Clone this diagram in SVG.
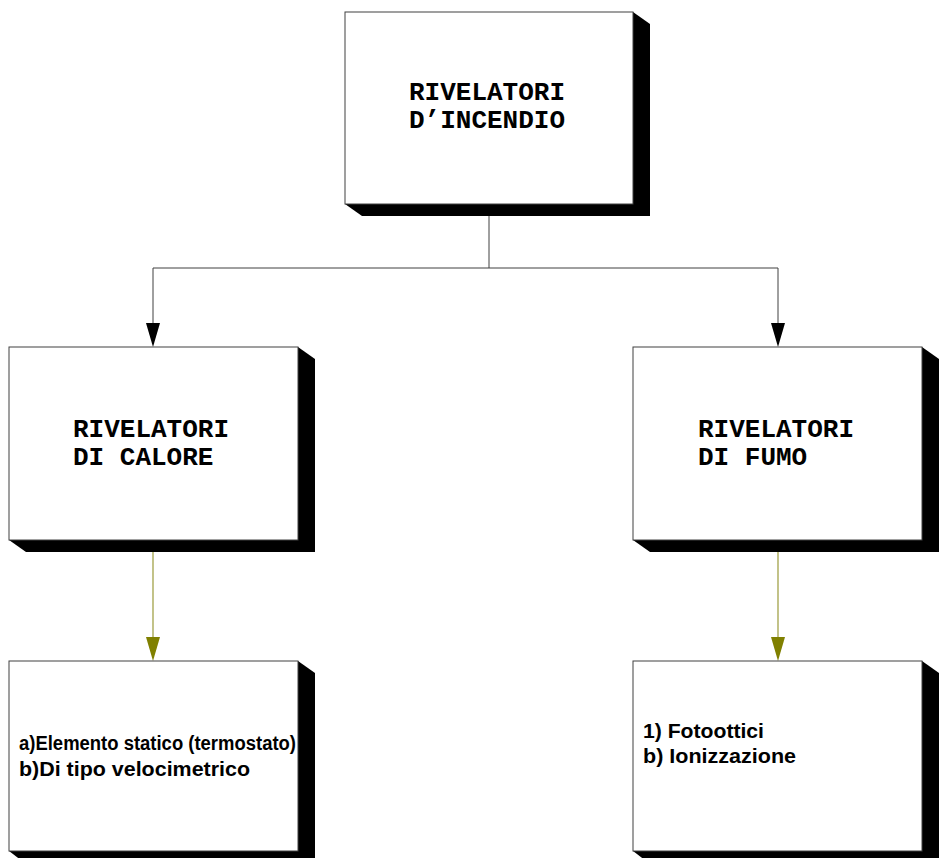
<svg xmlns="http://www.w3.org/2000/svg" width="945" height="858" viewBox="0 0 945 858">
  <style>
    .box { fill: #ffffff; stroke: #404040; stroke-width: 1; }
    .shadow { fill: #000000; }
    .title { font-family: "Liberation Mono", "Courier New", monospace; font-weight: bold; font-size: 26px; fill: #000; }
    .item { font-family: "Liberation Sans", Arial, sans-serif; font-weight: bold; font-size: 20px; fill: #000; }
    .link { fill: none; stroke: #404040; stroke-width: 1; }
    .olive { fill: none; stroke: #9a9a3a; stroke-width: 1.2; }
  </style>
  <rect width="945" height="858" fill="#ffffff"/>

  <!-- connectors -->
  <g id="connectors">
    <path class="link" d="M489,215 V268 H153 V323"/>
    <path class="link" d="M489,268 H778 V323"/>
    <path d="M146,323 L160,323 L153,347 Z" fill="#000"/>
    <path d="M771,323 L785,323 L778,347 Z" fill="#000"/>
    <path class="olive" d="M153,552 V637"/>
    <path class="olive" d="M778,552 V637"/>
    <path d="M146,637 L160,637 L153,661 Z" fill="#808000"/>
    <path d="M771,637 L785,637 L778,661 Z" fill="#808000"/>
  </g>

  <!-- top node -->
  <g id="node-incendio">
    <path class="shadow" d="M633,12 L650,24 L650,216 L362,216 L345,204 Z"/>
    <rect class="box" x="345" y="12" width="288" height="192"/>
    <text class="title" x="409" y="100">RIVELATORI</text>
    <text class="title" x="409" y="128">D’INCENDIO</text>
  </g>

  <!-- heat detectors -->
  <g id="node-calore">
    <path class="shadow" d="M298,347 L315,359 L315,552 L26,552 L9,540 Z"/>
    <rect class="box" x="9" y="347" width="289" height="193"/>
    <text class="title" x="73" y="437">RIVELATORI</text>
    <text class="title" x="73" y="465">DI CALORE</text>
  </g>

  <!-- smoke detectors -->
  <g id="node-fumo">
    <path class="shadow" d="M922,347 L939,359 L939,552 L650,552 L633,540 Z"/>
    <rect class="box" x="633" y="347" width="289" height="193"/>
    <text class="title" x="698" y="437">RIVELATORI</text>
    <text class="title" x="698" y="465">DI FUMO</text>
  </g>

  <!-- heat detector types -->
  <g id="node-calore-tipi">
    <path class="shadow" d="M298,661 L315,673 L315,864 L26,864 L9,851 Z"/>
    <rect class="box" x="9" y="661" width="289" height="190"/>
    <text class="item" x="19" y="750" font-size="17" textLength="277" lengthAdjust="spacingAndGlyphs">a)Elemento statico (termostato)</text>
    <text class="item" x="19" y="776" textLength="231" lengthAdjust="spacingAndGlyphs">b)Di tipo velocimetrico</text>
  </g>

  <!-- smoke detector types -->
  <g id="node-fumo-tipi">
    <path class="shadow" d="M922,661 L939,673 L939,864 L650,864 L633,851 Z"/>
    <rect class="box" x="633" y="661" width="289" height="190"/>
    <text class="item" x="643" y="738" textLength="121" lengthAdjust="spacingAndGlyphs">1) Fotoottici</text>
    <text class="item" x="643" y="763" textLength="153" lengthAdjust="spacingAndGlyphs">b) Ionizzazione</text>
  </g>
</svg>
